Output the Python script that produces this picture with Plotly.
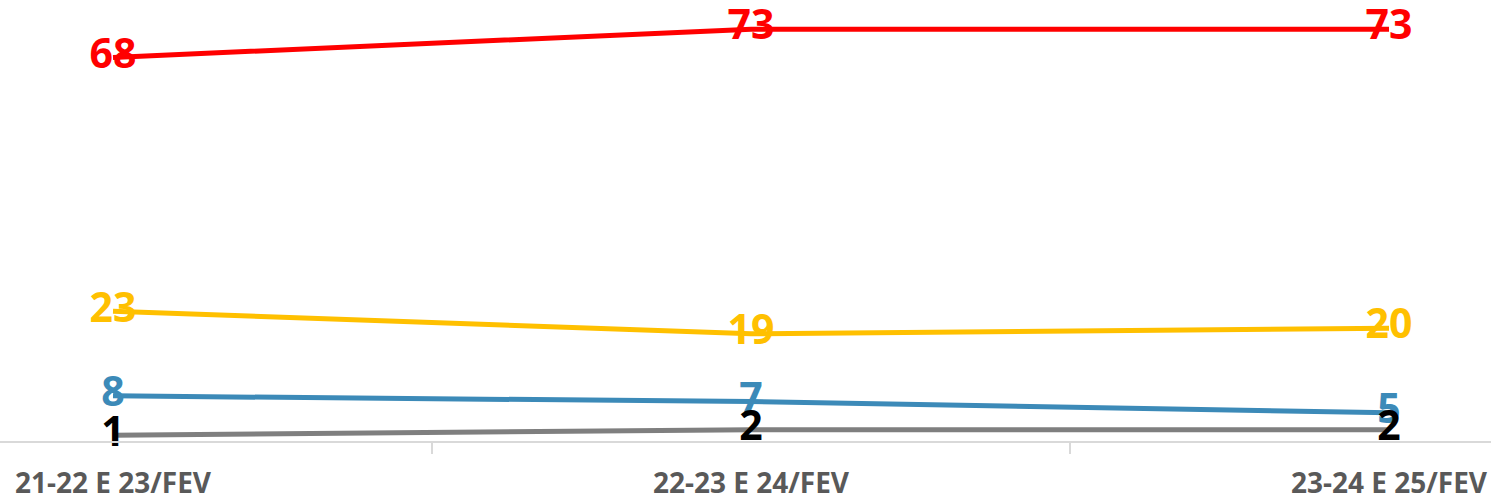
import plotly.graph_objects as go

categories = ["21-22 E 23/FEV", "22-23 E 24/FEV", "23-24 E 25/FEV"]
series_names = ["Red", "Yellow", "Blue", "Gray"]
red_vals = [68, 73, 73]
yellow_vals = [23, 19, 20]
blue_vals = [8, 7, 5]
gray_vals = [1, 2, 2]

x_idx = list(range(len(categories)))

styles = [
    (red_vals, "#FF0000", "#FF0000"),
    (yellow_vals, "#FFC000", "#FFC000"),
    (blue_vals, "#3C8AB8", "#3C8AB8"),
    (gray_vals, "#7F7F7F", "#000000"),
]

fig = go.Figure()
for name, (vals, lc, tc) in zip(series_names, styles):
    fig.add_trace(go.Scatter(
        x=x_idx, y=vals, name=name, mode="lines+text",
        text=[str(v) for v in vals], textposition="middle center",
        textfont=dict(family="Open Sans", size=41, color=tc, weight="bold"),
        line=dict(color=lc, width=5), cliponaxis=False, showlegend=False,
        hoverinfo="skip",
    ))

W, H = 1491, 497
fig.update_layout(
    width=W, height=H,
    margin=dict(l=0, r=0, t=1, b=56),
    paper_bgcolor="white", plot_bgcolor="white",
    xaxis=dict(
        range=[-113 / 638, 2 + 102 / 638],
        tickvals=x_idx, ticktext=categories,
        ticks="", showgrid=False, zeroline=False, automargin=False,
        showline=True, linecolor="#D9D9D9", linewidth=2,
        tickfont=dict(family="Open Sans", size=28, color="#595959", weight="bold"),
        ticklabelstandoff=16,
        minor=dict(tickvals=[0.5, 1.5], ticks="outside", ticklen=11,
                   tickcolor="#D9D9D9", tickwidth=2, showgrid=False),
    ),
    yaxis=dict(range=[0, 78], visible=False, showgrid=False, zeroline=False,
               automargin=False),
)

fig.write_html("out.html", config={"displayModeBar": False},
               post_script="document.body.style.margin='0';document.body.style.overflow='hidden';")
